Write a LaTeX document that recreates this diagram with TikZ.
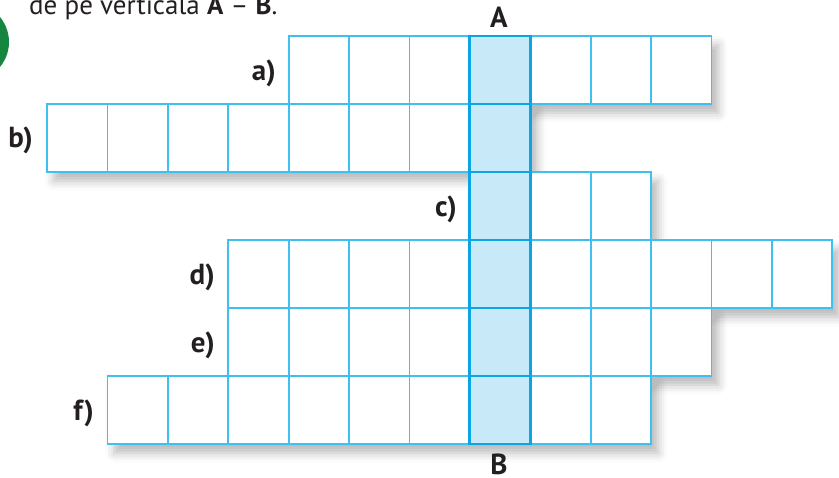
\documentclass[tikz,border=0pt]{standalone}
\usepackage{fontspec}
\setmainfont{PT Sans}
\usepackage{xcolor}
\usetikzlibrary{shadows.blur}
\definecolor{gridc}{HTML}{3EC1EE}
\definecolor{keyc}{HTML}{0AA5E2}
\definecolor{keybg}{HTML}{C8E9F8}
\definecolor{dotc}{HTML}{16853F}
\definecolor{inkc}{HTML}{231F20}
\tikzset{
  rowshade/.style={fill=white,blur shadow={shadow xshift=7pt,shadow yshift=-9pt,shadow blur radius=9pt,shadow opacity=28}},
  cell/.style={draw=gridc,line width=1.8pt},
  keycell/.style={draw=keyc,line width=2.8pt},
  lbl/.style={font=\fontsize{29}{29}\selectfont\bfseries,text=inkc,inner sep=0pt}
}

\begin{document}
\begin{tikzpicture}[x=1pt,y=-1pt]
\useasboundingbox (0,0) rectangle (839,478);
\def\cw{60.4}\def\ch{68}
\fill[dotc] (-30,42) circle (39);
\node[anchor=base west,inner sep=0pt,text=inkc,font=\fontsize{27}{27}\selectfont] (intro) at (29,15) {de pe verticala \textbf{A} -- \textbf{B}.};
% rows: row / first column / cells
\foreach \r/\k/\n in {0/4/7,1/0/8,2/7/3,3/3/10,4/3/8,5/1/9}
  \path[rowshade] ({47+\k*\cw},{36+\r*\ch}) rectangle ({47+(\k+\n)*\cw},{36+(\r+1)*\ch});
\fill[keybg] ({47+7*\cw},36) rectangle ({47+8*\cw},{36+6*\ch});
\foreach \r/\k/\n in {0/4/7,1/0/8,2/7/3,3/3/10,4/3/8,5/1/9}{
  \pgfmathtruncatemacro\m{\k+\n-1}
  \foreach \i in {\k,...,\m}
    \draw[cell] ({47+\i*\cw},{36+\r*\ch}) rectangle ({47+(\i+1)*\cw},{36+(\r+1)*\ch});
}
\foreach \r in {0,...,5}
  \draw[keycell] ({47+7*\cw},{36+\r*\ch}) rectangle ({47+8*\cw},{36+(\r+1)*\ch});
% labels
\node[lbl,anchor=east] (la) at (276,73) {a)};
\node[lbl,anchor=east] (lb) at (33,140) {b)};
\node[lbl,anchor=east] (lc) at (457,209) {c)};
\node[lbl,anchor=east] (ld) at (215,277) {d)};
\node[lbl,anchor=east] (le) at (215,345) {e)};
\node[lbl,anchor=east] (lf) at (94,413) {f)};
\node[lbl] (topA) at (499,17) {A};
\node[lbl] (botB) at (499,464) {B};
\end{tikzpicture}
\end{document}
